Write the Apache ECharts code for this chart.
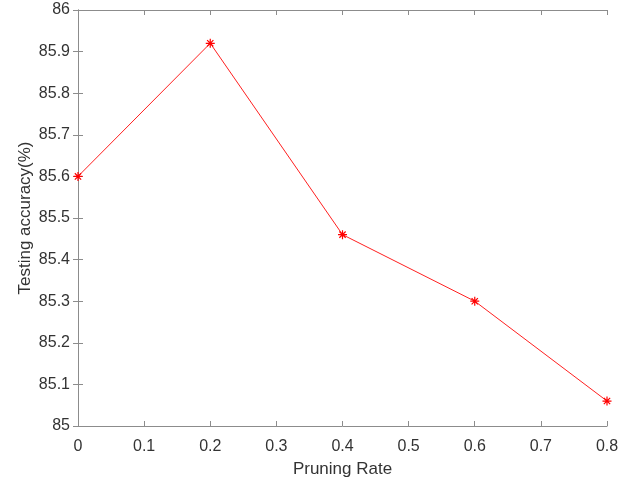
<!DOCTYPE html>
<html>
<head>
<meta charset="utf-8">
<script src="https://cdn.jsdelivr.net/npm/echarts@6/dist/echarts.min.js"></script>
<style>
  html, body { margin: 0; padding: 0; background: #fff; }
  #chart { width: 638px; height: 482px; }
</style>
</head>
<body>
<div id="chart"></div>
<script>
// 剪枝率 vs 测试准确率
const pruningRates = [0, 0.2, 0.4, 0.6, 0.8];
const accuracy = [85.6, 85.92, 85.46, 85.3, 85.06];

const chart = echarts.init(document.getElementById('chart'));

const axisColor = '#8c8c8c';
const labelColor = '#333333';
const font = 'Arial, "Liberation Sans", sans-serif';

const xBase = {
  type: 'value',
  min: 0, max: 0.8, interval: 0.1,
  axisLine: { show: true, lineStyle: { color: axisColor, width: 1 } },
  axisTick: { show: true, inside: true, length: 5, lineStyle: { color: axisColor } },
  splitLine: { show: false }
};
const yBase = {
  type: 'value',
  min: 85, max: 86, interval: 0.1,
  axisLine: { show: true, lineStyle: { color: axisColor, width: 1 } },
  axisTick: { show: true, inside: true, length: 5, lineStyle: { color: axisColor } },
  splitLine: { show: false }
};

const option = {
  animation: false,
  backgroundColor: '#fff',
  grid: { left: 78, right: 31, top: 10, bottom: 56, containLabel: false, outerBoundsMode: 'none' },
  xAxis: [
    Object.assign({}, xBase, {
      position: 'bottom',
      name: 'Pruning Rate', nameLocation: 'middle', nameGap: 35, nameMoveOverlap: false,
      nameTextStyle: { color: labelColor, fontSize: 17, fontFamily: font },
      axisLabel: { color: labelColor, fontSize: 16, fontFamily: font, margin: 13,
        formatter: v => String(Math.round(v * 10) / 10) }
    }),
    Object.assign({}, xBase, { position: 'top', axisLabel: { show: false } })
  ],
  yAxis: [
    Object.assign({}, yBase, {
      position: 'left',
      name: 'Testing accuracy(%)', nameLocation: 'middle', nameGap: 44, nameMoveOverlap: false,
      nameTextStyle: { color: labelColor, fontSize: 17, fontFamily: font },
      axisLabel: { color: labelColor, fontSize: 16, fontFamily: font, margin: 8,
        formatter: v => String(Math.round(v * 10) / 10) }
    }),
    Object.assign({}, yBase, { position: 'right', axisLabel: { show: false } })
  ],
  series: [{
    type: 'line',
    data: pruningRates.map((x, i) => [x, accuracy[i]]),
    lineStyle: { color: '#ff2020', width: 1 },
    symbol: 'path://M0,-5L0,5M-5,0L5,0M-3.5,-3.5L3.5,3.5M-3.5,3.5L3.5,-3.5',
    symbolSize: 9,
    itemStyle: { color: 'none', borderColor: '#ff0000', borderWidth: 1.2 }
  }]
};

chart.setOption(option);
</script>
</body>
</html>
